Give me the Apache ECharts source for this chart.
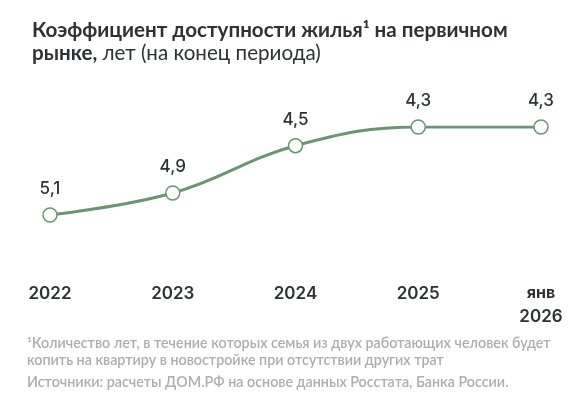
<!DOCTYPE html>
<html>
<head>
<meta charset="utf-8">
<script src="https://cdn.jsdelivr.net/npm/echarts@6/dist/echarts.min.js"></script>
<style>
html,body{margin:0;padding:0;background:#fff;}
#chart{width:586px;height:405px;}
</style>
</head>
<body>
<div id="chart"></div>
<script>
var categories = ['2022', '2023', '2024', '2025', 'янв\n2026'];
var values = [5.1, 4.9, 4.47, 4.3, 4.3];
var labels = ['5,1', '4,9', '4,5', '4,3', '4,3'];

var FONT = 'Inter, "Noto Sans", sans-serif';
var TFONT = 'Lato, Inter, sans-serif';
var DARK = '#2e3136';
var GREEN = '#6a9472';
var GRAY = '#adadad';

var chart = echarts.init(document.getElementById('chart'));
chart.setOption({
  backgroundColor: '#fff',
  animation: false,
  title: {
    left: 27, top: 14,
    text: '{b|Коэффициент доступности жилья¹ на первичном}\n{b|рынке,}{n| лет (на конец периода)}',
    textStyle: {
      fontFamily: TFONT,
      rich: {
        b: {fontFamily: TFONT, fontSize: 20.6, fontWeight: 700, color: DARK, lineHeight: 23},
        n: {fontFamily: TFONT, fontSize: 20.6, fontWeight: 400, color: DARK, lineHeight: 23}
      }
    }
  },
  grid: {left: 50, right: 45, top: 127, height: 88, containLabel: false, outerBoundsMode: 'none'},
  xAxis: {
    type: 'category',
    data: categories,
    boundaryGap: false,
    axisLine: {show: false},
    axisTick: {show: false},
    axisLabel: {
      margin: 67,
      interval: 0,
      fontFamily: FONT,
      fontSize: 17,
      fontWeight: 600,
      color: DARK,
      lineHeight: 23,
      formatter: function (v) {
        if (v.indexOf('\n') >= 0) {
          var p = v.split('\n');
          return '{s|' + p[0] + '}\n{y|' + p[1] + '}';
        }
        return '{y|' + v + '}';
      },
      rich: {
        s: {fontFamily: FONT, fontSize: 16, fontWeight: 700, color: DARK, lineHeight: 23},
        y: {fontFamily: FONT, fontSize: 17, fontWeight: 600, color: DARK, lineHeight: 23}
      }
    }
  },
  yAxis: {
    type: 'value',
    inverse: true,
    min: 4.3,
    max: 5.1,
    show: false,
    splitLine: {show: false}
  },
  series: [{
    type: 'line',
    data: values,
    smooth: 0.4,
    symbol: 'circle',
    symbolSize: 14,
    lineStyle: {color: GREEN, width: 3},
    itemStyle: {color: '#fff', borderColor: GREEN, borderWidth: 1.5},
    label: {
      show: true,
      position: 'top',
      distance: 10,
      formatter: function (p) { return labels[p.dataIndex]; },
      fontFamily: FONT,
      fontSize: 17,
      fontWeight: 500,
      color: DARK
    },
    z: 3
  }],
  graphic: [
    {type: 'text', left: 27, top: 335, style: {
      text: '¹Количество лет, в течение которых семья из двух работающих человек будет\nкопить на квартиру в новостройке при отсутствии других трат',
      font: '600 14.3px ' + TFONT, fill: GRAY, lineHeight: 17}},
    {type: 'text', left: 27, top: 374, style: {
      text: 'Источники: расчеты ДОМ.РФ на основе данных Росстата, Банка России.',
      font: '600 14.3px ' + TFONT, fill: GRAY, lineHeight: 17}}
  ]
});
</script>
</body>
</html>
